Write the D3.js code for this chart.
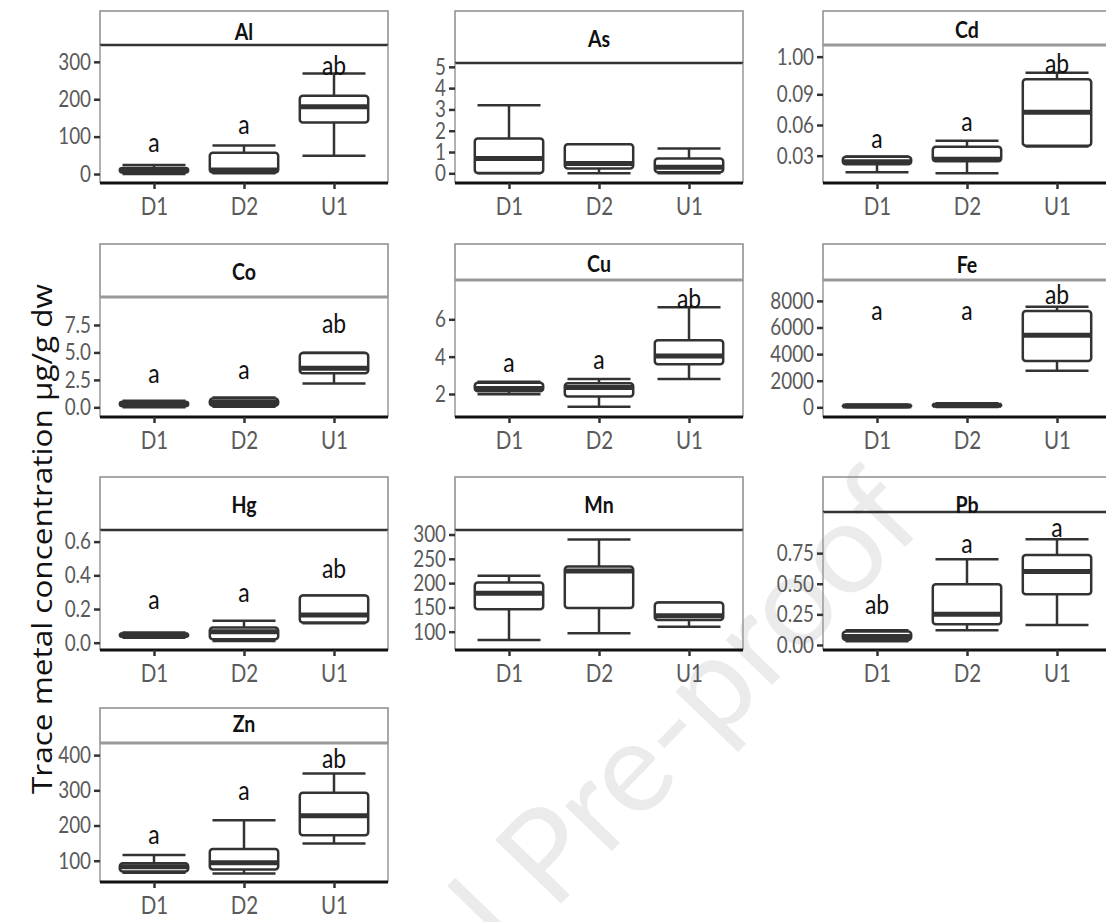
<!DOCTYPE html>
<html>
<head>
<meta charset="utf-8">
<script src="https://cdn.jsdelivr.net/npm/d3@7"></script>
<style>
  body { margin: 0; background: #fff; }
  text { font-family: Lato, "Open Sans", sans-serif; }
</style>
</head>
<body>
<svg id="chart" width="1106" height="922"></svg>
<script>
// ---- data ----
const metals = ["Al", "As", "Cd", "Co", "Cu", "Fe", "Hg", "Mn", "Pb", "Zn"];
const sites = ["D1", "D2", "U1"];

// one row per metal, columns D1, D2, U1
const whiskerLow = [
  [0, 2, 49], [0, 0, 0], [0.0138, 0.0128, 0.039], [0, 0.05, 2.18], [1.98, 1.32, 2.8],
  [0, 20, 2750], [0.03, 0.01, 0.115], [83, 97, 110], [0.03, 0.12, 0.163], [66, 64, 149]
];
const q1 = [
  [4, 4, 138], [0.02, 0.23, 0.05], [0.0216, 0.0245, 0.0398], [0.1, 0.15, 3.1], [2.15, 1.86, 3.6],
  [40, 80, 3480], [0.035, 0.02, 0.12], [146, 149, 124], [0.04, 0.17, 0.414], [69, 75, 172]
];
const median = [
  [9, 11, 180], [0.7, 0.46, 0.28], [0.024, 0.0265, 0.0724], [0.3, 0.45, 3.56], [2.3, 2.35, 4.04],
  [90, 150, 5420], [0.045, 0.065, 0.165], [179, 225, 133], [0.07, 0.25, 0.6], [83, 94, 228]
];
const q3 = [
  [16, 57, 209], [1.64, 1.36, 0.7], [0.029, 0.0388, 0.1047], [0.5, 0.8, 4.95], [2.6, 2.57, 4.88],
  [150, 230, 7240], [0.055, 0.09, 0.28], [201, 234, 160], [0.11, 0.496, 0.735], [93, 133, 293]
];
const whiskerHigh = [
  [24, 76, 269], [3.2, 1.37, 1.17], [0.0292, 0.0447, 0.111], [0.6, 0.9, 4.97], [2.65, 2.8, 6.64],
  [220, 300, 7560], [0.06, 0.13, 0.28], [215, 290, 160], [0.12, 0.7, 0.864], [116, 215, 348]
];

// significance letters and the value they sit at
const letters = [
  ["a", "a", "ab"], [], ["a", "a", "ab"], ["a", "a", "ab"], ["a", "a", "ab"],
  ["a", "a", "ab"], ["a", "a", "ab"], [], ["ab", "a", "a"], ["a", "a", "ab"]
];
const letterValue = [
  [85, 131, 291], [], [0.047, 0.0633, 0.12], [3.1, 3.4, 7.65], [3.66, 3.84, 7.1],
  [7300, 7300, 8450], [0.255, 0.295, 0.44], [], [0.327, 0.83, 0.96], [173, 300, 391]
];

// y axis limits and ticks per panel
const yDomain = [
  [-24, 345], [-0.455, 5.18], [0.0033, 0.1382], [-0.88, 10.05], [0.768, 8.106],
  [-729, 9571], [-0.0433, 0.669], [62.3, 309.3], [-0.041, 1.086], [39.5, 434.4]
];
const yTickValues = [
  [0, 100, 200, 300], [0, 1, 2, 3, 4, 5], [0.03, 0.06, 0.09, 0.1268], [0, 2.5, 5, 7.5], [2, 4, 6],
  [0, 2000, 4000, 6000, 8000], [0, 0.2, 0.4, 0.6], [100, 150, 200, 250, 300], [0, 0.25, 0.5, 0.75], [100, 200, 300, 400]
];
const yTickLabels = [
  ["0", "100", "200", "300"], ["0", "1", "2", "3", "4", "5"], ["0.03", "0.06", "0.09", "1.00"],
  ["0.0", "2.5", "5.0", "7.5"], ["2", "4", "6"], ["0", "2000", "4000", "6000", "8000"],
  ["0.0", "0.2", "0.4", "0.6"], ["100", "150", "200", "250", "300"], ["0.00", "0.25", "0.50", "0.75"],
  ["100", "200", "300", "400"]
];

const yTitle = "Trace metal concentration μg/g dw";

// ---- layout ----
const colLeft = [100, 455, 823];
const panelWidth = 288;
const rowTop = [11, 244, 477, 708];
const rowAxis = [183, 417, 650, 882];
const stripHeight = [34, 52, 34, 53, 36, 36, 53, 53, 35, 35];
const titleOffset = [21, 28, 19, 28, 20, 21, 28, 28, 28, 16];
const darkStrip = [true, true, false, false, false, false, true, true, true, false];

const ink = "#333333";
const squeeze = 0.82; // the figure text is narrow

const svg = d3.select("#chart");

// watermark sits under everything
const wm = svg.append("g")
  .attr("transform", "translate(553,912) rotate(-46)")
  .attr("fill", "#ebebeb")
  .style("font-family", "'Open Sans', Lato, sans-serif")
  .style("font-size", "128px");
wm.append("text").attr("x", 0).attr("y", 0).text("Pre-proof");
wm.append("text").attr("x", -34).attr("y", 0).attr("text-anchor", "end").text("Journal");

metals.forEach((metal, i) => {
  const col = i % 3, row = Math.floor(i / 3);
  const left = colLeft[col];
  const top = rowTop[row];
  const stripBottom = top + stripHeight[i];
  const axisY = rowAxis[row];

  const g = svg.append("g").attr("class", "panel");

  const x = d3.scalePoint().domain(sites).range([left, left + panelWidth]).padding(0.6);
  const y = d3.scaleLinear().domain(yDomain[i]).range([axisY, stripBottom]);
  const step = x.step();
  const boxW = step * 0.76;
  const capW = step * 0.7;

  // strip
  g.append("rect")
    .attr("x", left).attr("y", top)
    .attr("width", panelWidth).attr("height", stripHeight[i])
    .attr("fill", "none").attr("stroke", "#8c8c8c").attr("stroke-width", 1.5);
  g.append("line")
    .attr("x1", left).attr("x2", left + panelWidth)
    .attr("y1", stripBottom).attr("y2", stripBottom)
    .attr("stroke", darkStrip[i] ? ink : "#999")
    .attr("stroke-width", darkStrip[i] ? 2.5 : 3);
  g.append("text")
    .attr("transform", `translate(${left + panelWidth / 2},${top + titleOffset[i]}) scale(0.85,1)`)
    .attr("text-anchor", "middle").attr("dy", "0.35em")
    .style("font-size", "23px").style("font-weight", "bold").attr("fill", "#111")
    .text(metal);

  // panel side borders
  [left, left + panelWidth].forEach(xx => {
    g.append("line")
      .attr("x1", xx).attr("x2", xx)
      .attr("y1", stripBottom).attr("y2", axisY)
      .attr("stroke", "#999").attr("stroke-width", 1.5);
  });

  // boxes
  sites.forEach((site, j) => {
    const cx = x(site);
    const b = g.append("g").attr("stroke", ink).attr("stroke-width", 2.5).attr("stroke-linecap", "butt");
    b.append("line").attr("x1", cx).attr("x2", cx)
      .attr("y1", y(whiskerHigh[i][j])).attr("y2", y(whiskerLow[i][j]));
    [whiskerHigh[i][j], whiskerLow[i][j]].forEach(v => {
      b.append("line").attr("x1", cx - capW / 2).attr("x2", cx + capW / 2)
        .attr("y1", y(v)).attr("y2", y(v));
    });
    b.append("rect")
      .attr("x", cx - boxW / 2).attr("width", boxW)
      .attr("y", y(q3[i][j])).attr("height", Math.max(0.5, y(q1[i][j]) - y(q3[i][j])))
      .attr("rx", 3)
      .attr("fill", "#fff").attr("stroke-linejoin", "round");
    b.append("line")
      .attr("x1", cx - boxW / 2).attr("x2", cx + boxW / 2)
      .attr("y1", y(median[i][j])).attr("y2", y(median[i][j]))
      .attr("stroke-width", 5);
  });

  // letters
  letters[i].forEach((lab, j) => {
    g.append("text")
      .attr("transform", `translate(${x(sites[j])},${y(letterValue[i][j])}) scale(0.85,1)`)
      .attr("text-anchor", "middle").attr("dy", "0.35em")
      .style("font-size", "27px").attr("fill", "#111")
      .text(lab);
  });

  // bottom axis line
  g.append("line")
    .attr("x1", left).attr("x2", left + panelWidth)
    .attr("y1", axisY).attr("y2", axisY)
    .attr("stroke", "#111").attr("stroke-width", 3);

  // y axis
  const yAxis = g.append("g")
    .attr("transform", `translate(${left},0)`)
    .call(d3.axisLeft(y).tickValues(yTickValues[i]).tickFormat((d, k) => yTickLabels[i][k]).tickSize(6).tickPadding(3));
  yAxis.select(".domain").remove();
  yAxis.selectAll("line").attr("stroke", ink).attr("stroke-width", 2.5);
  yAxis.selectAll("text")
    .attr("x", -9 / squeeze)
    .attr("transform", `scale(${squeeze},1)`)
    .style("font-size", "23px").attr("fill", "#5a5a5a");

  // x axis
  const xAxis = g.append("g")
    .attr("transform", `translate(0,${axisY})`)
    .call(d3.axisBottom(x).tickSize(6).tickPadding(8));
  xAxis.select(".domain").remove();
  xAxis.selectAll("line").attr("stroke", ink).attr("stroke-width", 2.5);
  xAxis.selectAll("text")
    .attr("transform", `scale(${squeeze},1)`)
    .style("font-size", "25px").attr("fill", "#5a5a5a");
});

// y axis title
svg.append("text")
  .attr("transform", "translate(52,539) rotate(-90)")
  .attr("text-anchor", "middle")
  .attr("textLength", 510).attr("lengthAdjust", "spacingAndGlyphs")
  .style("font-family", "'Open Sans', Lato, sans-serif")
  .style("font-size", "27px").attr("fill", "#111")
  .text(yTitle);
</script>
</body>
</html>
